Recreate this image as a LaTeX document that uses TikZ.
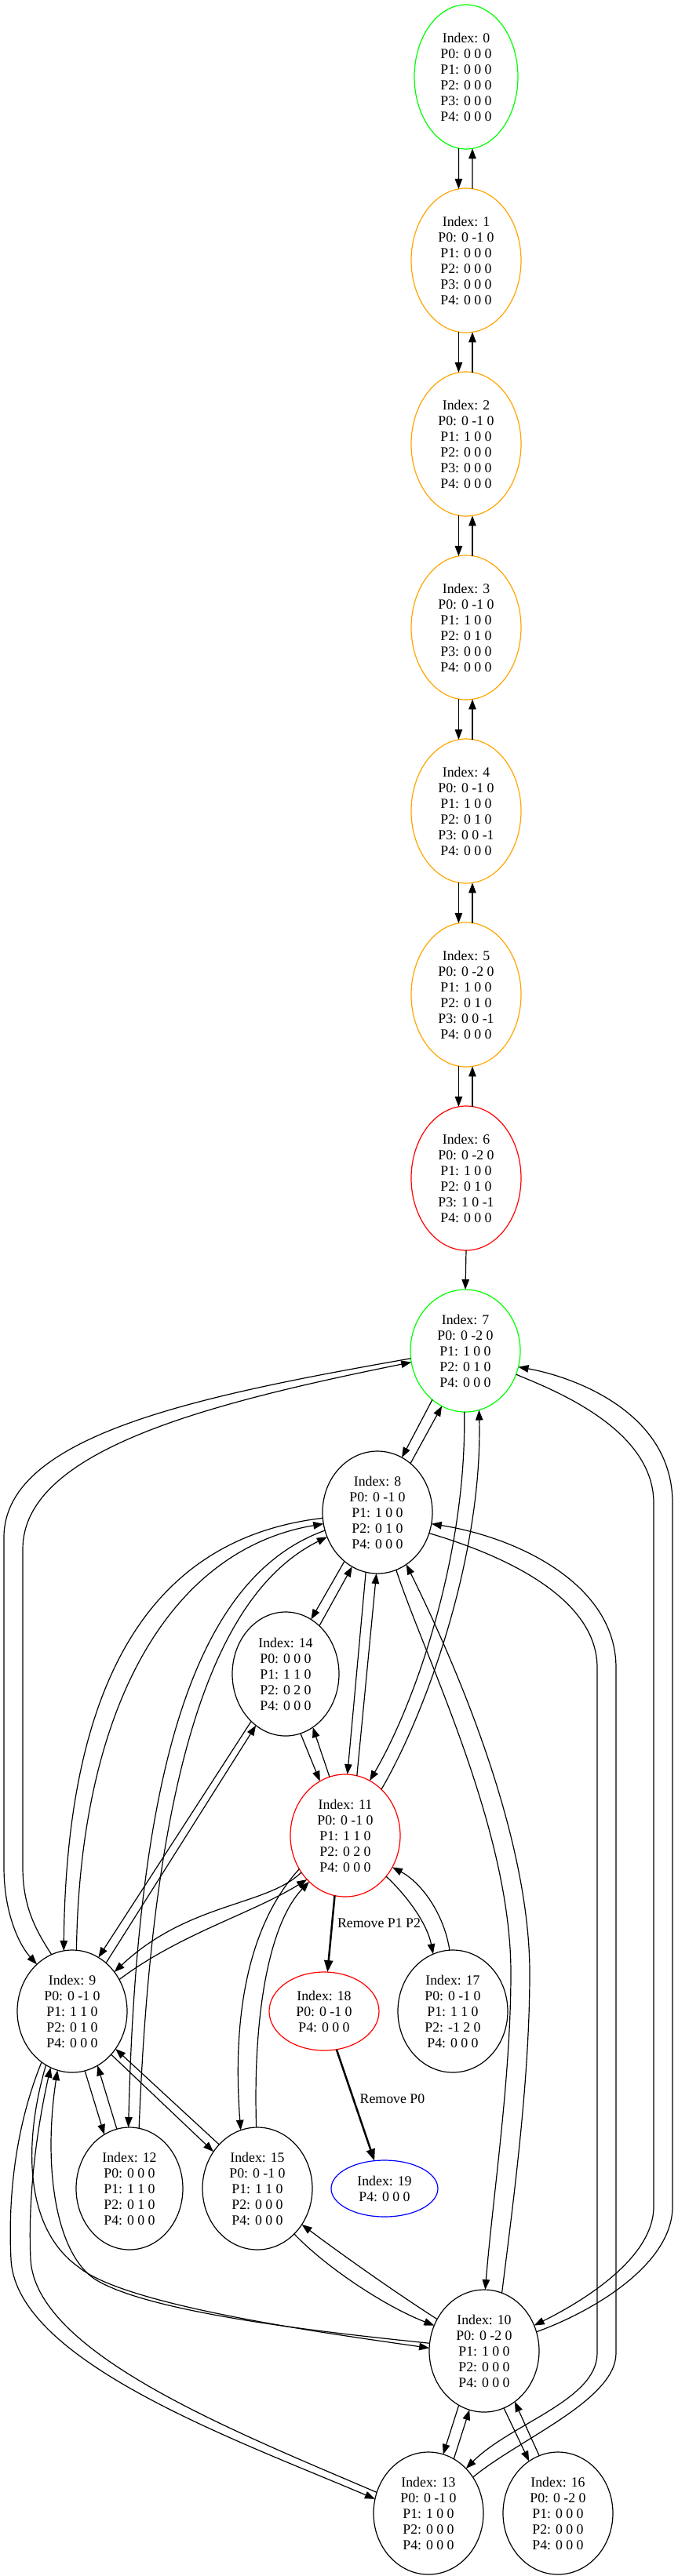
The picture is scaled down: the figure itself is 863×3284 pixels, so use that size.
\documentclass[tikz,border=0pt]{standalone}
\usepackage{fontspec}
\setmainfont{Liberation Serif}
\usetikzlibrary{shapes.geometric,arrows.meta}
\definecolor{gvgreen}{RGB}{0,255,0}
\definecolor{gvorange}{RGB}{255,165,0}
\definecolor{gvred}{RGB}{255,0,0}
\definecolor{gvblue}{RGB}{0,0,255}
\begin{document}
\begin{tikzpicture}[x=1pt,y=-1pt,
  st/.style={ellipse, draw, line width=1.2pt, inner sep=0pt, outer sep=0pt, align=center,
    font=\fontsize{17.8pt}{20pt}\selectfont, minimum width=140pt, minimum height=156pt},
  six/.style={minimum height=184pt},
  lbl/.style={font=\fontsize{17.8pt}{20pt}\selectfont, inner sep=0pt},
  edg/.style={line width=1.2pt, -{Triangle[length=13pt,width=9.5pt]}},
  bedg/.style={line width=2.5pt, -{Triangle[length=15pt,width=11pt]}}]
\path[use as bounding box] (0,0) rectangle (863,3284);
% nodes
\node[st,six,draw=gvgreen,minimum width=132pt] (n0) at (594,98) {Index: 0\\P0: 0 0 0\\P1: 0 0 0\\P2: 0 0 0\\P3: 0 0 0\\P4: 0 0 0};
\node[st,six,draw=gvorange] (n1) at (594,332) {Index: 1\\P0: 0 -1 0\\P1: 0 0 0\\P2: 0 0 0\\P3: 0 0 0\\P4: 0 0 0};
\node[st,six,draw=gvorange] (n2) at (594,566) {Index: 2\\P0: 0 -1 0\\P1: 1 0 0\\P2: 0 0 0\\P3: 0 0 0\\P4: 0 0 0};
\node[st,six,draw=gvorange] (n3) at (594,800) {Index: 3\\P0: 0 -1 0\\P1: 1 0 0\\P2: 0 1 0\\P3: 0 0 0\\P4: 0 0 0};
\node[st,six,draw=gvorange] (n4) at (594,1034) {Index: 4\\P0: 0 -1 0\\P1: 1 0 0\\P2: 0 1 0\\P3: 0 0 -1\\P4: 0 0 0};
\node[st,six,draw=gvorange] (n5) at (594,1268) {Index: 5\\P0: 0 -2 0\\P1: 1 0 0\\P2: 0 1 0\\P3: 0 0 -1\\P4: 0 0 0};
\node[st,six,draw=gvred] (n6) at (594,1502) {Index: 6\\P0: 0 -2 0\\P1: 1 0 0\\P2: 0 1 0\\P3: 1 0 -1\\P4: 0 0 0};
\node[st,draw=gvgreen] (n7) at (593,1722) {Index: 7\\P0: 0 -2 0\\P1: 1 0 0\\P2: 0 1 0\\P4: 0 0 0};
\node[st] (n8) at (481,1928) {Index: 8\\P0: 0 -1 0\\P1: 1 0 0\\P2: 0 1 0\\P4: 0 0 0};
\node[st,minimum width=136pt,minimum height=158pt] (n14) at (364,2134) {Index: 14\\P0: 0 0 0\\P1: 1 1 0\\P2: 0 2 0\\P4: 0 0 0};
\node[st,draw=gvred] (n11) at (440,2340) {Index: 11\\P0: 0 -1 0\\P1: 1 1 0\\P2: 0 2 0\\P4: 0 0 0};
\node[st] (n9) at (92,2564) {Index: 9\\P0: 0 -1 0\\P1: 1 1 0\\P2: 0 1 0\\P4: 0 0 0};
\node[st,draw=gvred,minimum height=100pt] (n18) at (413,2564) {Index: 18\\P0: 0 -1 0\\P4: 0 0 0};
\node[st] (n17) at (577,2564) {Index: 17\\P0: 0 -1 0\\P1: 1 1 0\\P2: -1 2 0\\P4: 0 0 0};
\node[st,minimum width=136pt] (n12) at (165,2790) {Index: 12\\P0: 0 0 0\\P1: 1 1 0\\P2: 0 1 0\\P4: 0 0 0};
\node[st] (n15) at (328,2790) {Index: 15\\P0: 0 -1 0\\P1: 1 1 0\\P2: 0 0 0\\P4: 0 0 0};
\node[st,draw=gvblue,minimum width=136pt,minimum height=72pt] (n19) at (490,2790) {Index: 19\\P4: 0 0 0};
\node[st] (n10) at (617,2997) {Index: 10\\P0: 0 -2 0\\P1: 1 0 0\\P2: 0 0 0\\P4: 0 0 0};
\node[st] (n13) at (546,3204) {Index: 13\\P0: 0 -1 0\\P1: 1 0 0\\P2: 0 0 0\\P4: 0 0 0};
\node[st] (n16) at (711,3204) {Index: 16\\P0: 0 -2 0\\P1: 0 0 0\\P2: 0 0 0\\P4: 0 0 0};
\node[lbl] (l1) at (483,2452) {Remove P1 P2};
\node[lbl] (l2) at (500,2676) {Remove P0};
% chain
\draw[edg] (n0.-96) -- (n1.96);
\draw[edg] (n1.85) -- (n0.-85);
\draw[edg] (n1.-96) -- (n2.96);
\draw[edg] (n2.85) -- (n1.-85);
\draw[edg] (n2.-96) -- (n3.96);
\draw[edg] (n3.85) -- (n2.-85);
\draw[edg] (n3.-96) -- (n4.96);
\draw[edg] (n4.85) -- (n3.-85);
\draw[edg] (n4.-96) -- (n5.96);
\draw[edg] (n5.85) -- (n4.-85);
\draw[edg] (n5.-96) -- (n6.96);
\draw[edg] (n6.85) -- (n5.-85);
\draw[edg] (n6.south) -- (n7.north);
% 7
\draw[edg] (n7.-124) -- (n8.66);
\draw[edg] (n8.56) -- (n7.-113);
\draw[edg] (n7.188) .. controls (250,1780) and (5,1830) .. (5,1960) -- (5,2380) .. controls (5,2440) and (25,2480) .. (n9.127);
\draw[edg] (n9.110) .. controls (45,2460) and (29,2430) .. (29,2380) -- (29,1975) .. controls (29,1850) and (260,1790) .. (n7.192);
\draw[edg] (n7.-25) .. controls (700,1770) and (833,1820) .. (833,1916) -- (833,2813) .. controls (833,2880) and (740,2935) .. (n10.27);
\draw[edg] (n10.20) .. controls (760,2945) and (857,2885) .. (857,2813) -- (857,1916) .. controls (857,1800) and (730,1755) .. (n7.-17);
\draw[edg] (n7.-91) .. controls (595,1980) and (530,2170) .. (n11.66);
\draw[edg] (n11.52) .. controls (545,2180) and (615,1980) .. (n7.-77);
% 8
\draw[edg] (n8.-124) -- (n14.65);
\draw[edg] (n14.55) -- (n8.-115);
\draw[edg] (n8.-101) -- (n11.88);
\draw[edg] (n11.79) -- (n8.-91);
\draw[edg] (n8.186) .. controls (200,1960) and (85,2130) .. (n9.98);
\draw[edg] (n9.86) .. controls (102,2170) and (220,1975) .. (n8.192);
\draw[edg] (n8.199) .. controls (250,2010) and (175,2250) .. (n12.91);
\draw[edg] (n12.81) .. controls (195,2250) and (275,2030) .. (n8.206);
\draw[edg] (n8.-72) .. controls (540,2110) and (651,2330) .. (651,2515) .. controls (651,2650) and (628,2800) .. (n10.89);
\draw[edg] (n10.73) .. controls (655,2800) and (675,2650) .. (675,2515) .. controls (675,2330) and (570,2100) .. (n8.-61);
\draw[edg] (n8.-22) .. controls (650,1985) and (761,2040) .. (761,2126) -- (761,3000) .. controls (761,3060) and (650,3090) .. (n13.50);
\draw[edg] (n13.39) .. controls (660,3110) and (785,3060) .. (785,3000) -- (785,2126) .. controls (785,2020) and (660,1960) .. (n8.-12);
% 14, 11
\draw[edg] (n14.-76) -- (n11.115);
\draw[edg] (n11.105) -- (n14.-63);
\draw[edg] (n9.55) -- (n14.240);
\draw[edg] (n14.234) -- (n9.64);
\draw[edg] (n9.34) .. controls (230,2465) and (320,2440) .. (n11.229);
\draw[edg] (n11.220) .. controls (340,2430) and (240,2425) .. (n9.43);
\draw[edg] (n11.216) .. controls (320,2450) and (295,2560) .. (n15.106);
\draw[edg] (n15.91) .. controls (322,2560) and (345,2450) .. (n11.232);
\draw[edg] (n11.-45) .. controls (522,2420) and (545,2455) .. (n17.109);
\draw[edg] (n17.93) .. controls (566,2440) and (537,2400) .. (n11.-34);
\draw[bedg] (n11.-100) -- (n18.85);
\draw[bedg] (n18.-72) -- (n19.110);
% 9
\draw[edg] (n9.-78) -- (n12.115);
\draw[edg] (n12.102) -- (n9.-65);
\draw[edg] (n9.-48) -- (n15.140);
\draw[edg] (n15.131) -- (n9.-41);
\draw[edg] (n9.-121) .. controls (20,2710) and (10,2800) .. (14,2880) .. controls (20,3010) and (300,3110) .. (n13.165);
\draw[edg] (n13.158) .. controls (300,3100) and (45,3000) .. (39,2880) .. controls (35,2790) and (50,2700) .. (n9.-111);
\draw[edg] (n9.-116) .. controls (30,2730) and (30,2840) .. (100,2890) .. controls (160,2940) and (420,2975) .. (n10.177);
\draw[edg] (n10.172) .. controls (430,2975) and (190,2950) .. (120,2905) .. controls (70,2870) and (55,2760) .. (n9.-104);
% 10
\draw[edg] (n15.-51) .. controls (415,2890) and (490,2940) .. (n10.153);
\draw[edg] (n10.146) .. controls (500,2920) and (430,2870) .. (n15.-39);
\draw[edg] (n10.-115) -- (n13.76);
\draw[edg] (n13.65) -- (n10.-104);
\draw[edg] (n10.-71) -- (n16.119);
\draw[edg] (n16.108) -- (n10.-59);
\end{tikzpicture}
\end{document}
